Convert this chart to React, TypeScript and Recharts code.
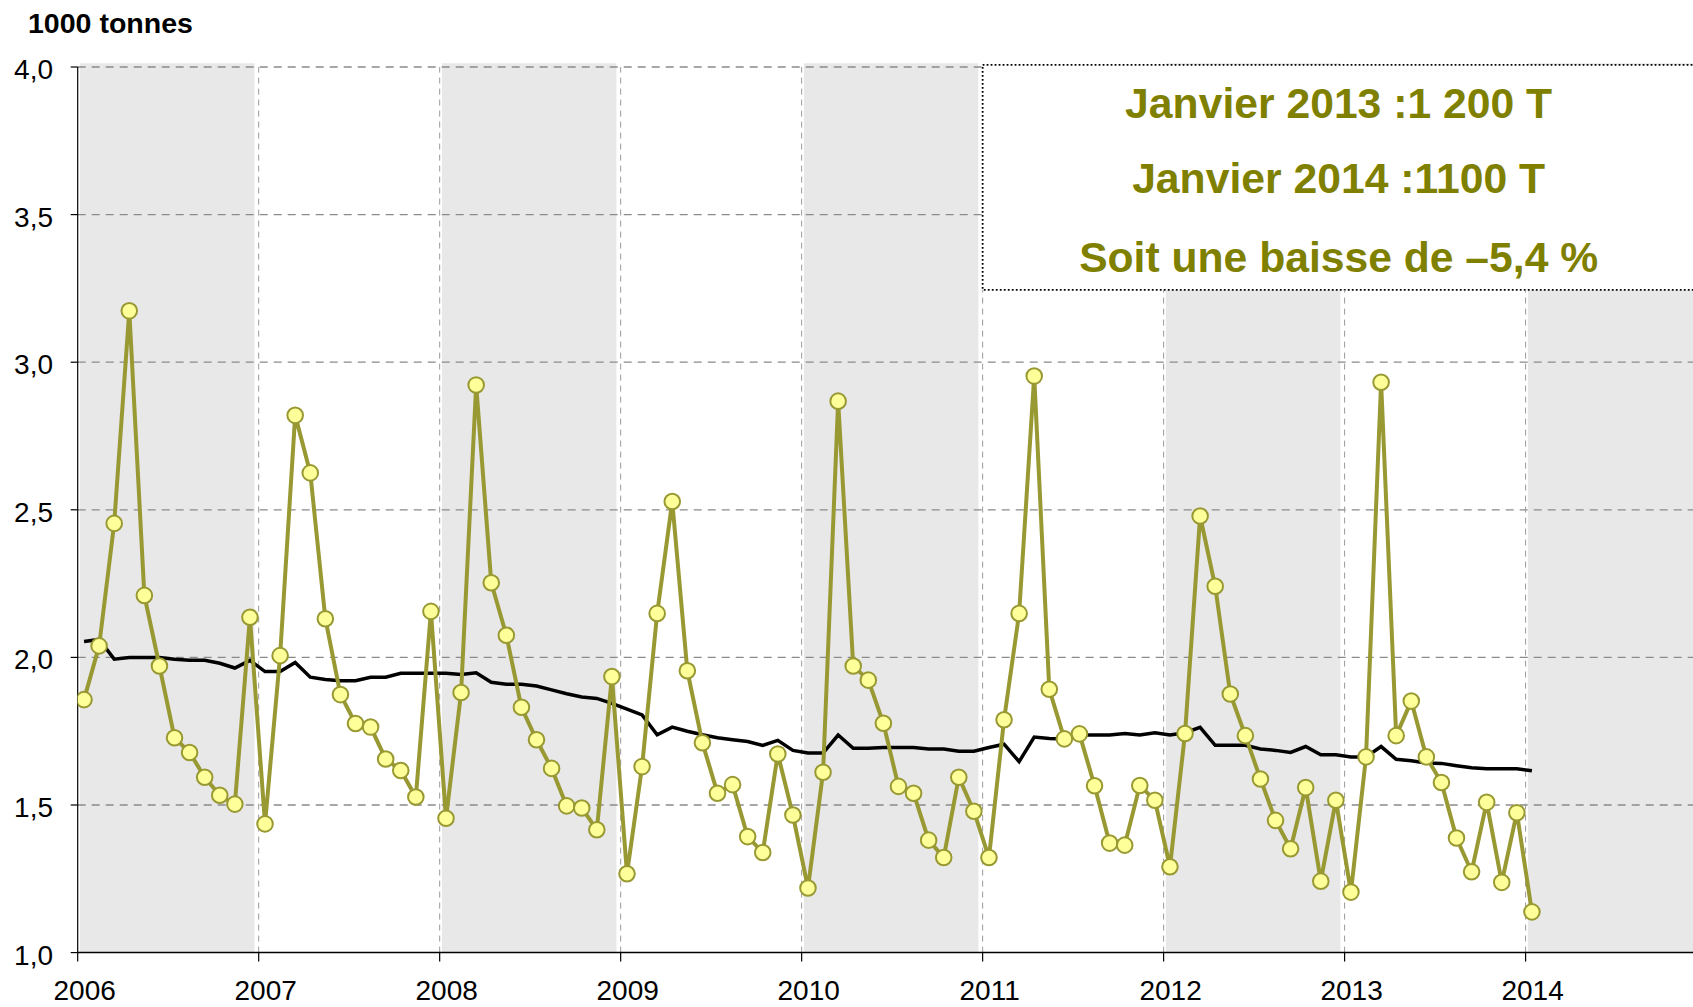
import React from 'react';
import { LineChart, Line, XAxis, YAxis, ReferenceArea, ReferenceLine } from 'recharts';

// ---- data (monthly, Jan 2006 .. Jan 2014), 1000 tonnes ----
const yearLabels = ['2006', '2007', '2008', '2009', '2010', '2011', '2012', '2013', '2014'];

const production = [
  1.857, 2.039, 2.454, 3.174, 2.21, 1.971, 1.728, 1.678, 1.594, 1.533, 1.503, 2.136,
  1.436, 2.006, 2.82, 2.625, 2.131, 1.874, 1.776, 1.764, 1.656, 1.617, 1.527, 2.156,
  1.455, 1.881, 2.923, 2.253, 2.075, 1.831, 1.721, 1.624, 1.497, 1.49, 1.416, 1.935,
  1.267, 1.63, 2.149, 2.528, 1.955, 1.711, 1.54, 1.569, 1.393, 1.339, 1.673, 1.466,
  1.219, 1.611, 2.868, 1.971, 1.923, 1.777, 1.563, 1.54, 1.381, 1.322, 1.594, 1.479,
  1.322, 1.789, 2.149, 2.953, 1.892, 1.724, 1.741, 1.565, 1.371, 1.364, 1.566, 1.516,
  1.291, 1.742, 2.479, 2.241, 1.876, 1.735, 1.588, 1.448, 1.352, 1.559, 1.242, 1.516,
  1.205, 1.663, 2.932, 1.735, 1.852, 1.663, 1.576, 1.388, 1.274, 1.509, 1.238, 1.474,
  1.138,
];

const movingAverage = [
  2.054, 2.061, 1.994, 2.0, 2.0, 2.0, 1.994, 1.99, 1.99, 1.98, 1.964, 1.99,
  1.952, 1.952, 1.983, 1.933, 1.925, 1.921, 1.921, 1.933, 1.933, 1.946, 1.946, 1.946,
  1.946, 1.942, 1.948, 1.916, 1.909, 1.909, 1.903, 1.89, 1.877, 1.866, 1.861, 1.844,
  1.825, 1.805, 1.738, 1.764, 1.75, 1.738, 1.728, 1.721, 1.715, 1.702, 1.719, 1.685,
  1.676, 1.676, 1.737, 1.692, 1.692, 1.695, 1.695, 1.695, 1.69, 1.69, 1.682, 1.682,
  1.695, 1.706, 1.647, 1.73, 1.725, 1.724, 1.737, 1.737, 1.737, 1.742, 1.737, 1.745,
  1.737, 1.745, 1.763, 1.702, 1.702, 1.702, 1.69, 1.685, 1.678, 1.698, 1.67, 1.67,
  1.663, 1.663, 1.698, 1.655, 1.65, 1.642, 1.641, 1.633, 1.626, 1.623, 1.623, 1.623,
  1.616,
];

const yTicks = [1.0, 1.5, 2.0, 2.5, 3.0, 3.5, 4.0];
const gridValues = [1.5, 2.0, 2.5, 3.0, 3.5, 4.0];
const shadedYearIdx = [0, 2, 4, 6, 8];
const infoLines = ['Janvier 2013 :1 200 T', 'Janvier 2014 :1100 T', 'Soit une baisse de \u20135,4 %'];
const unitLabel = '1000 tonnes';
const infoBoxBottom = 3.245;
const infoBoxStart = 60; // month index of Jan 2011

// ---- derived table ----
const MONTH_OFFSET = 0.42;
const X_MAX = 107.1;
const xTicks = yearLabels.map((_, i) => i * 12);
const data = production.map((v, i) => ({ x: i + MONTH_OFFSET, production: v, average: movingAverage[i] }));

const FONT = "'Liberation Sans', Arial, Helvetica, sans-serif";
const OLIVE = '#999933';
const TEXT_OLIVE = '#808000';

const XTick = (props: any) => {
  const { x, y, payload } = props;
  const label = yearLabels[Math.round(payload.value / 12)];
  return (
    <text x={x + 7} y={y} dy="0.71em" textAnchor="middle" fontSize={28} fill="#000" fontFamily={FONT}>
      {label}
    </text>
  );
};

const YTick = (props: any) => {
  const { x, y, payload } = props;
  return (
    <text x={x} y={y + 2} dy="0.355em" textAnchor="end" fontSize={28} fill="#000" fontFamily={FONT}>
      {Number(payload.value).toFixed(1).replace('.', ',')}
    </text>
  );
};

const lineWidths = [427, 413, 519];
const lineBaselines = [53, 128, 207];

const InfoLabel = (props: any) => {
  const vb = props.viewBox || {};
  const cx = vb.x + 356;
  return (
    <g>
      {infoLines.map((t, i) => (
        <text
          key={i}
          x={cx}
          y={vb.y + lineBaselines[i]}
          textAnchor="middle"
          fontSize={42}
          fontWeight="bold"
          fill={TEXT_OLIVE}
          fontFamily={FONT}
          textLength={lineWidths[i]}
          lengthAdjust="spacingAndGlyphs"
        >
          {t}
        </text>
      ))}
    </g>
  );
};

export default function App() {
  return (
    <div style={{ position: 'relative', width: 1693, height: 1007, background: '#fff' }}>
      <style>{'body{margin:0;}'}</style>
      <LineChart width={1693} height={1007} data={data} margin={{ top: 67, right: 0, bottom: 0, left: 0 }}>
        <XAxis
          dataKey="x"
          type="number"
          domain={[0, X_MAX]}
          ticks={xTicks}
          allowDataOverflow
          height={54.4}
          tickSize={9}
          tickMargin={19}
          tick={<XTick />}
          axisLine={{ stroke: '#000', strokeWidth: 1.5 }}
          tickLine={{ stroke: '#000', strokeWidth: 1.2 }}
          interval={0}
        />
        <YAxis
          type="number"
          domain={[1, 4]}
          ticks={yTicks}
          allowDataOverflow
          width={77.7}
          tickSize={7}
          tickMargin={17.7}
          tick={<YTick />}
          axisLine={{ stroke: '#000', strokeWidth: 1.2 }}
          tickLine={{ stroke: '#000', strokeWidth: 1.2 }}
          interval={0}
        />
        {shadedYearIdx.map((yi) => (
          <ReferenceArea
            key={'band' + yi}
            x1={yi * 12 + 0.15}
            x2={Math.min(yi * 12 + 11.72, X_MAX)}
            y1={1}
            y2={4.013}
            fill="#e8e8e8"
            fillOpacity={1}
            stroke="none"
            ifOverflow="visible"
          />
        ))}
        {gridValues.map((v) => (
          <ReferenceLine
            key={'h' + v}
            segment={[{ x: 0, y: v }, { x: v > infoBoxBottom ? infoBoxStart : X_MAX, y: v }]}
            stroke="#8a8a8a"
            strokeWidth={1.3}
            strokeDasharray="8 6"
            ifOverflow="visible"
          />
        ))}
        {xTicks.slice(1).map((v) => (
          <ReferenceLine
            key={'v' + v}
            segment={[{ x: v, y: 1 }, { x: v, y: v >= infoBoxStart ? infoBoxBottom : 4 }]}
            stroke="#9a9a9a"
            strokeWidth={1}
            strokeDasharray="6 5"
            ifOverflow="visible"
          />
        ))}
        <ReferenceArea
          x1={infoBoxStart}
          x2={109}
          y1={infoBoxBottom}
          y2={4.007}
          fill="#fff"
          fillOpacity={1}
          stroke="#000"
          strokeWidth={1.8}
          strokeDasharray="1.8 2.2"
          ifOverflow="visible"
          label={InfoLabel}
        />
        <Line
          type="linear"
          dataKey="average"
          stroke="#000"
          strokeWidth={3.5}
          dot={false}
          activeDot={false}
          isAnimationActive={false}
        />
        <Line
          type="linear"
          dataKey="production"
          stroke={OLIVE}
          strokeWidth={4}
          dot={{ r: 7.8, fill: '#ffff99', stroke: OLIVE, strokeWidth: 2 }}
          activeDot={false}
          isAnimationActive={false}
        />
      </LineChart>
      <svg width={260} height={50} style={{ position: 'absolute', left: 0, top: 0 }}>
        <text
          x={28}
          y={32.7}
          fontSize={27}
          fontWeight="bold"
          fill="#000"
          fontFamily={FONT}
          textLength={165}
          lengthAdjust="spacingAndGlyphs"
        >
          {unitLabel}
        </text>
      </svg>
    </div>
  );
}
